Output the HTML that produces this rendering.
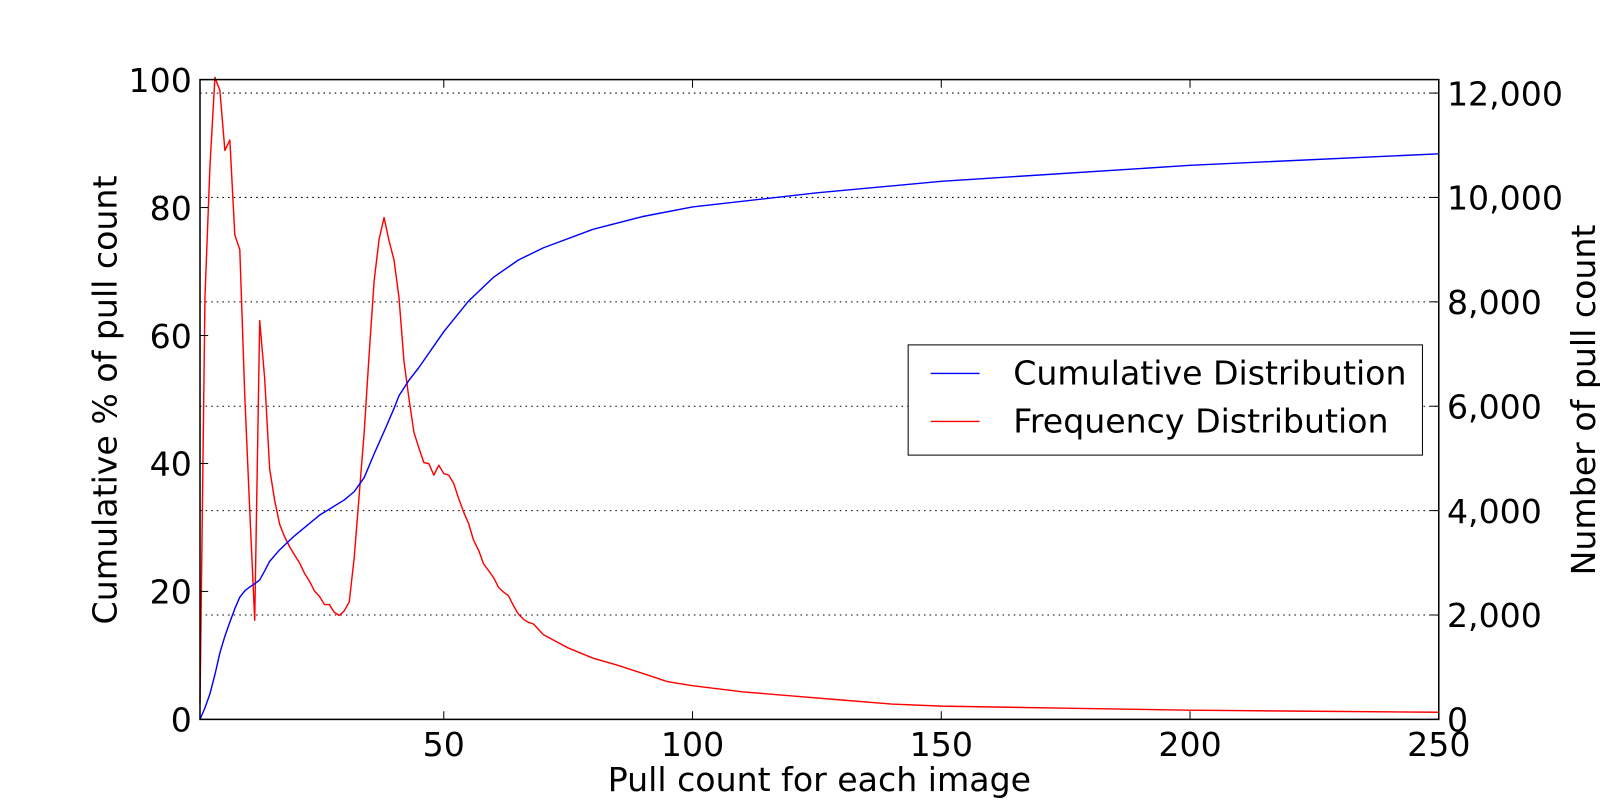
<!DOCTYPE html>
<html><head><meta charset="utf-8">
<style>
html,body{margin:0;padding:0;background:#fff;}
svg{display:block;font-family:"DejaVu Sans","Liberation Sans",sans-serif;}
</style></head>
<body>
<svg id="chart" width="1600" height="800" viewBox="0 0 1568 784" xmlns="http://www.w3.org/2000/svg">
<g id="grid"></g>
<g id="series"></g>
<rect x="196" y="78" width="1214" height="627" fill="none" stroke="#000" stroke-width="1.5"/>
<g id="axes"></g>
<text x="803" y="775" font-size="32.5" text-anchor="middle">Pull count for each image</text>
<text transform="translate(114,392) rotate(-90)" font-size="32.5" text-anchor="middle">Cumulative % of pull count</text>
<text transform="translate(1563,392) rotate(-90)" font-size="32.5" text-anchor="middle">Number of pull count</text>
<g>
<rect x="890" y="338" width="504" height="108" fill="#fff" stroke="#000" stroke-width="1"/>
<line x1="912" y1="366" x2="960" y2="366" stroke="#0000ff" stroke-width="1.3"/>
<text x="993" y="377" font-size="32.5">Cumulative Distribution</text>
<line x1="912" y1="413" x2="960" y2="413" stroke="#ff0000" stroke-width="1.3"/>
<text x="993" y="424" font-size="32.5">Frequency Distribution</text>
</g>
</svg>
<script>
const cumX = [1,2,3,4,5,6,7,8,9,10,11,12,13,14,15,17,20,25,30,32,34,36,38,40,41,43,45,50,55,60,65,70,80,90,100,125,150,200,250];
const cumY = [0,1.8,4,7,10.4,13,15.2,17.3,19.1,20.1,20.7,21.2,21.8,23.2,24.7,26.5,28.7,31.9,34.3,35.6,37.8,41.5,45,48.6,50.6,53,55,60.6,65.4,69.1,71.8,73.7,76.6,78.6,80.1,82.3,84.1,86.6,88.4];
const freqX = [1,2,3,4,5,6,7,8,9,10,11,12,13,14,15,16,17,18,19,20,21,22,23,24,25,26,27,28,29,30,31,32,33,34,35,36,37,38,39,40,41,42,43,44,45,46,47,48,49,50,51,52,53,54,55,56,57,58,59,60,61,62,63,64,65,66,67,68,69,70,75,80,85,90,95,100,110,120,130,140,150,175,200,225,250];
const freqY = [300,8100,10600,12300,12050,10900,11100,9280,9000,6200,4000,1900,7640,6530,4800,4200,3740,3500,3310,3150,3000,2800,2650,2460,2360,2200,2200,2050,1990,2080,2250,3100,4300,5500,7000,8400,9200,9615,9170,8800,8080,6860,6150,5500,5200,4920,4900,4680,4870,4710,4680,4520,4230,3970,3750,3430,3240,2980,2850,2720,2530,2440,2370,2180,2020,1920,1860,1830,1730,1623,1369,1173,1036,880,723,645,528,450,371,293,254,215,176,156,137];
const xTicks = [50,100,150,200,250];
const leftTicks = [0,20,40,60,80,100];
const rightTicks = [0,2000,4000,6000,8000,10000,12000];

const L=196,R=1410,T=78,B=705;
const xMin=1,xMax=250,rMax=12258;
const sx=v=>L+(v-xMin)/(xMax-xMin)*(R-L);
const syL=v=>B-v/100*(B-T);
const syR=v=>B-v/rMax*(B-T);
const NS='http://www.w3.org/2000/svg';
const grid=document.getElementById('grid'),axes=document.getElementById('axes'),series=document.getElementById('series');
function mk(tag,attrs,parent){const e=document.createElementNS(NS,tag);for(const k in attrs)e.setAttribute(k,attrs[k]);parent.appendChild(e);return e;}

rightTicks.forEach(v=>{
  const y=syR(v);
  if(v>0){const g=mk('line',{x1:L,x2:R,y1:y,y2:y,stroke:'#000','stroke-width':1,'stroke-dasharray':'1.5,4'},grid);
  
  }
  const t=mk('line',{x1:R-8,x2:R,y1:y,y2:y,stroke:'#000','stroke-width':1},axes);
  
  
  const lb=mk('text',{x:R+8,y:y+12,'font-size':32.5},axes);
  lb.textContent=v.toLocaleString('en-US');
  
  
});
leftTicks.forEach(v=>{
  const y=syL(v);
  const t=mk('line',{x1:L,x2:L+8,y1:y,y2:y,stroke:'#000','stroke-width':1},axes);
  
  
  const lb=mk('text',{x:L-8,y:y+12,'font-size':32.5,'text-anchor':'end'},axes);
  lb.textContent=v;
  
  
});
xTicks.forEach(v=>{
  const x=sx(v);
  const t=mk('line',{x1:x,x2:x,y1:B-8,y2:B,stroke:'#000','stroke-width':1},axes);
  
  
  const t2=mk('line',{x1:x,x2:x,y1:T,y2:T+8,stroke:'#000','stroke-width':1},axes);
  
  
  const lb=mk('text',{x:x,y:B+36,'font-size':32.5,'text-anchor':'middle'},axes);
  lb.textContent=v;
  
  
});
const fp=mk('polyline',{points:freqX.map((x,i)=>sx(x)+','+syR(freqY[i])).join(' '),fill:'none',stroke:'#ff0000','stroke-width':1.4,'stroke-linejoin':'round'},series);


const cp=mk('polyline',{points:cumX.map((x,i)=>sx(x)+','+syL(cumY[i])).join(' '),fill:'none',stroke:'#0000ff','stroke-width':1.4,'stroke-linejoin':'round'},series);


</script>
</body></html>
